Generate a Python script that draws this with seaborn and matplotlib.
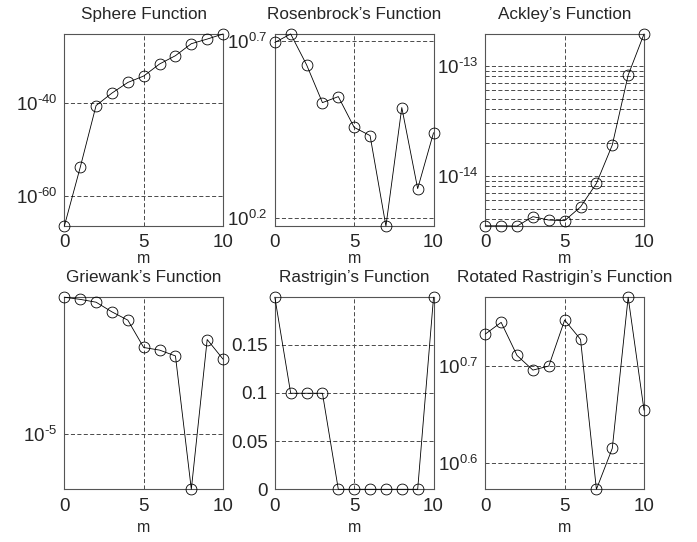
import numpy as np
import pandas as pd
import matplotlib
matplotlib.use("Agg")
import matplotlib.pyplot as plt
from matplotlib.ticker import LogLocator, NullLocator, NullFormatter, FixedLocator
import seaborn as sns

# Iteration index shared by all panels
m = list(range(11))

sphere = [2.5e-67, 1.3e-54, 3.2e-41, 1.6e-38, 3.2e-36, 7.9e-35,
          3.2e-32, 2.0e-30, 7.9e-28, 7.9e-27, 1.0e-25]
rosenbrock = [4.977, 5.259, 4.305, 3.365, 3.499, 2.864,
              2.716, 1.507, 3.258, 1.923, 2.767]
ackley = [3.50e-15, 3.50e-15, 3.48e-15, 4.24e-15, 3.95e-15, 3.90e-15,
          5.20e-15, 8.50e-15, 1.90e-14, 8.20e-14, 1.94e-13]
griewank = [4.82e-5, 4.70e-5, 4.55e-5, 4.07e-5, 3.70e-5, 2.70e-5,
            2.62e-5, 2.45e-5, 5.27e-6, 2.96e-5, 2.36e-5]
rastrigin = [0.199, 0.0995, 0.0995, 0.0995, 0.0, 0.0,
             0.0, 0.0, 0.0, 0.0, 0.199]
rot_rastrigin = [5.409, 5.562, 5.140, 4.964, 5.012, 5.593,
                 5.341, 3.736, 4.119, 5.906, 4.512]

titles = ["Sphere Function", "Rosenbrock\u2019s Function", "Ackley\u2019s Function",
          "Griewank\u2019s Function", "Rastrigin\u2019s Function",
          "Rotated Rastrigin\u2019s Function"]
series = [sphere, rosenbrock, ackley, griewank, rastrigin, rot_rastrigin]
log_panel = [True, True, True, True, False, True]

# y tick positions and labels per panel
ytick_vals = [[1e-60, 1e-40], [10 ** 0.2, 10 ** 0.7], [1e-14, 1e-13],
              [1e-5], [0, 0.05, 0.1, 0.15], [10 ** 0.6, 10 ** 0.7]]
ytick_text = [[r"$10^{\text{-}60}$", r"$10^{\text{-}40}$"],
              [r"$10^{0.2}$", r"$10^{0.7}$"],
              [r"$10^{\text{-}14}$", r"$10^{\text{-}13}$"],
              [r"$10^{\text{-}5}$"],
              ["0", "0.05", "0.1", "0.15"],
              [r"$10^{0.6}$", r"$10^{0.7}$"]]
xtick_vals = [0, 5, 10]

sns.set_style("white")
plt.rcParams["font.family"] = ["Liberation Sans", "DejaVu Sans"]
plt.rcParams["mathtext.fontset"] = "custom"
plt.rcParams["mathtext.rm"] = "Liberation Sans"
plt.rcParams["mathtext.it"] = "Liberation Sans:italic"
plt.rcParams["mathtext.default"] = "regular"

fig, axes = plt.subplots(2, 3, figsize=(6.97, 5.42), dpi=100)
fig.subplots_adjust(left=0.0923, right=0.924, top=0.9373, bottom=0.0972,
                    wspace=0.326, hspace=0.37)

grid_kw = dict(color="#4a4a4a", linewidth=0.7, linestyle=(0, (4.2, 2.4)))

for i, ax in enumerate(axes.flat):
    df = pd.DataFrame({"m": m, "value": series[i]})
    if log_panel[i]:
        ax.set_yscale("log")
    sns.lineplot(data=df, x="m", y="value", ax=ax, color="black",
                 linewidth=0.6, marker="o", markersize=7.8,
                 markerfacecolor="none", markeredgecolor="black",
                 markeredgewidth=0.6, clip_on=False, zorder=5)
    ax.margins(x=0, y=0)
    ax.set_xlim(0, 10)
    ax.set_ylim(min(series[i]), max(series[i]))
    ax.set_xticks(xtick_vals)
    ax.set_xticklabels([str(v) for v in xtick_vals])
    ax.yaxis.set_major_locator(FixedLocator(ytick_vals[i]))
    ax.set_yticklabels(ytick_text[i])
    if i == 2:
        ax.yaxis.set_minor_locator(LogLocator(base=10, subs=range(2, 10)))
        ax.yaxis.set_minor_formatter(NullFormatter())
        ax.grid(True, which="both", axis="y", **grid_kw)
    else:
        ax.yaxis.set_minor_locator(NullLocator())
        ax.grid(True, which="major", axis="y", **grid_kw)
    ax.xaxis.set_minor_locator(NullLocator())
    ax.grid(True, which="major", axis="x", **grid_kw)
    ax.set_axisbelow(True)
    ax.tick_params(which="both", length=0, labelsize=13.5)
    ax.tick_params(axis="x", pad=6)
    ax.tick_params(axis="y", pad=5)
    for sp in ax.spines.values():
        sp.set_color("#555555")
        sp.set_linewidth(0.8)
    ax.set_title(titles[i], fontsize=12.3, pad=11)
    ax.set_ylabel("")
    ax.set_xlabel("m", fontsize=11.5, labelpad=0 if i < 3 else 4)

fig.savefig("out.png", dpi=100, facecolor="white")
